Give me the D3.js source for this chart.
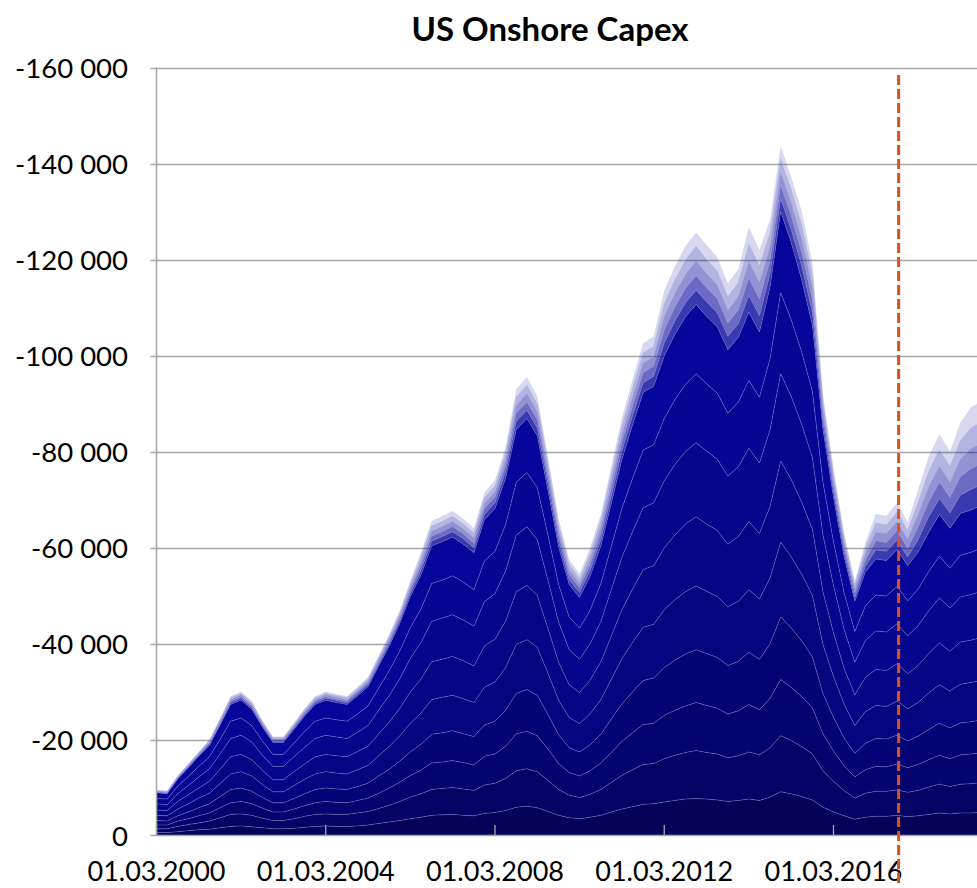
<!DOCTYPE html>
<html><head><meta charset="utf-8">
<script src="https://cdn.jsdelivr.net/npm/d3@7"></script>
<style>
body{margin:0;background:#fff}
svg{display:block}
text{font-family:Lato,"Open Sans",sans-serif;fill:#000}
</style>
</head><body>
<svg id="chart" width="977" height="888"></svg>
<script>
// ---- DATA (values in thousands, shown as negative capex) ----
const chartTitle = "US Onshore Capex";
const firstQuarter = "2000-03-01";
const quarterCount = 79;
const xTickDates = ["2000-03-01","2004-03-01","2008-03-01","2012-03-01","2016-03-01"];
const forecastStart = "2017-09-01";
const yTicks = [0,-20000,-40000,-60000,-80000,-100000,-120000,-140000,-160000];

// cumulative boundary lines, bottom to top
const line1 = [0.6,0.6,0.8,1.0,1.2,1.3,1.6,1.9,2.0,1.8, 1.6,1.4,1.4,1.5,1.7,1.9,2.0,1.9,1.9,2.0, 2.2,2.5,2.8,3.1,3.5,3.8,4.2,4.3,4.4,4.2, 4.1,4.6,4.8,5.2,5.9,6.1,5.8,5.0,4.2,3.7, 3.5,3.8,4.2,4.9,5.5,6.0,6.5,6.6,7.0,7.3, 7.6,7.7,7.6,7.4,7.1,7.3,7.6,7.3,8.0,9.1, 8.7,8.1,7.4,5.9,4.9,4.1,3.4,3.8,4.0,4.0, 4.2,3.9,4.1,4.4,4.7,4.5,4.7,4.7,4.8];
const line2 = [1.4,1.4,1.9,2.3,2.6,3.0,3.7,4.4,4.5,4.2, 3.6,3.1,3.1,3.5,4.0,4.4,4.5,4.4,4.4,4.7, 5.0,5.6,6.3,7.1,8.0,8.7,9.6,9.8,10.0,9.7, 9.4,10.5,10.9,11.9,13.5,13.9,13.3,11.5,9.6,8.4, 7.9,8.6,9.6,11.1,12.5,13.7,14.8,15.0,16.0,16.7, 17.3,17.7,17.3,17.0,16.2,16.6,17.4,16.8,18.3,20.8, 19.8,18.5,17.0,13.5,11.3,9.3,7.8,8.8,9.2,9.2, 9.5,9.0,9.4,10.1,10.7,10.2,10.7,10.8,11.0];
const line3 = [2.2,2.2,3.0,3.5,4.1,4.7,5.8,6.8,7.1,6.6, 5.7,4.9,4.9,5.5,6.2,6.8,7.1,6.9,6.8,7.3, 7.8,8.8,9.9,11.1,12.5,13.6,15.1,15.3,15.6,15.2, 14.7,16.5,17.0,18.6,21.2,21.7,20.8,18.0,15.0,13.1, 12.4,13.5,15.1,17.3,19.6,21.4,23.1,23.4,25.0,26.1, 27.0,27.7,27.1,26.5,25.3,26.0,27.3,26.2,28.6,32.5, 30.9,28.9,26.6,21.2,17.6,14.5,12.2,13.7,14.4,14.3, 14.9,14.1,14.8,15.8,16.7,16.0,16.8,17.0,17.2];
const line4 = [3.1,3.0,4.1,4.9,5.8,6.6,8.1,9.6,9.9,9.2, 7.9,6.8,6.8,7.7,8.7,9.6,9.9,9.7,9.6,10.2, 10.9,12.4,13.8,15.5,17.4,19.0,21.1,21.4,21.8,21.2, 20.6,23.0,23.8,26.1,29.6,30.4,29.2,25.2,21.0,18.3, 17.4,18.9,21.1,24.3,27.4,29.9,32.3,32.8,35.0,36.5, 37.8,38.7,37.9,37.1,35.4,36.3,38.2,36.7,40.0,45.5, 43.3,40.5,37.2,29.6,24.6,20.3,17.1,19.2,20.2,20.1, 20.9,19.7,20.7,22.1,23.4,22.4,23.5,23.7,24.1];
const line5 = [4.2,4.1,5.5,6.6,7.8,8.8,10.8,12.8,13.3,12.4, 10.6,9.1,9.1,10.4,11.7,12.8,13.3,13.0,12.8,13.7, 14.6,16.6,18.6,20.8,23.4,25.5,28.3,28.8,29.2,28.5, 27.7,30.9,32.0,35.0,39.8,40.8,39.2,33.8,28.2,24.6, 23.3,25.4,28.3,32.6,36.8,40.2,43.4,44.0,47.0,49.1, 50.8,52.0,50.9,49.8,47.6,48.8,51.2,49.3,53.7,61.1, 58.1,54.4,50.0,39.8,33.1,27.3,22.9,25.8,27.1,26.9, 28.0,26.4,27.7,29.7,31.4,30.1,31.5,31.9,32.3];
const line6 = [5.3,5.2,7.1,8.5,9.9,11.3,13.8,16.4,16.9,15.8, 13.6,11.6,11.6,13.3,14.9,16.4,16.9,16.6,16.4,17.5, 18.6,21.2,23.7,26.5,29.9,32.6,36.2,36.7,37.3,36.4, 35.3,39.5,40.9,44.7,50.8,52.1,50.0,43.1,36.1,31.4, 29.8,32.4,36.2,41.6,47.0,51.3,55.4,56.2,59.9,62.6, 64.9,66.4,64.9,63.6,60.7,62.3,65.4,62.9,68.6,78.0, 74.2,69.4,63.8,50.8,42.2,34.8,29.3,32.9,34.6,34.4, 35.8,33.7,35.4,37.9,40.1,38.4,40.3,40.7,41.3];
const line7 = [6.6,6.4,8.7,10.4,12.2,13.9,17.0,20.2,20.9,19.5, 16.7,14.4,14.4,16.4,18.4,20.2,20.9,20.5,20.2,21.5, 22.9,26.1,29.2,32.7,36.9,40.2,44.6,45.3,46.0,44.9, 43.6,48.7,50.4,55.1,62.6,64.3,61.6,53.2,44.5,38.7, 36.7,40.0,44.6,51.3,57.9,63.3,68.3,69.3,73.9,77.3, 80.0,81.8,80.1,78.4,74.9,76.8,80.7,77.6,84.6,96.2, 91.5,85.6,78.7,62.6,52.1,42.9,36.1,40.6,42.6,42.4, 44.1,41.6,43.7,46.8,49.5,47.4,49.7,50.2,50.9];
const line8 = [7.7,7.6,10.3,12.3,14.4,16.4,20.0,23.8,24.5,22.9, 19.7,16.9,16.9,19.2,21.7,23.8,24.5,24.1,23.8,25.3, 27.0,30.7,34.4,38.5,43.3,47.2,52.5,53.2,54.1,52.8, 51.2,57.2,59.2,64.8,73.6,75.6,72.5,62.6,52.3,45.5, 43.2,47.0,52.5,60.3,68.1,74.4,80.3,81.4,86.9,90.8, 94.0,96.2,94.1,92.2,88.0,90.3,94.8,91.3,99.4,113.1, 107.5,100.7,92.5,73.6,61.2,50.5,42.5,47.8,50.1,49.9, 51.9,48.9,51.3,55.0,58.2,55.7,58.4,59.0,59.9];
const solidTop = [8.9,8.7,11.8,14.1,16.5,18.8,23,27.3,28.2,26.3, 22.6,19.4,19.4,22.1,24.9,27.3,28.2,27.7,27.3,29.1, 31,35.3,39.5,44.2,49.8,54.3,60.3,61.2,62.2,60.7, 58.9,65.8,68.1,74.5,84.6,86.9,83.3,71.9,60.1,52.3, 49.6,54,60.3,69.3,78.3,85.5,92.3,93.6,99.9,104.4, 108.1,110.6,108.2,106,101.2,103.8,109,104.9,114.3,130, 123.6,115.7,106.3,84.6,70.4,58,48.8,54.9,57.6,57.3, 59.6,56.2,59,63.2,66.9,64,67.1,67.8,68.8];
const fade1 = [9.0,8.8,11.9,14.3,16.7,19.0,23.3,27.6,28.6,26.6, 22.9,19.6,19.6,22.4,25.2,27.6,28.6,28.1,27.6,29.5, 31.4,35.7,40.0,44.8,50.4,55.2,61.3,62.3,63.3,61.8, 59.9,66.9,69.3,75.8,86.3,88.6,84.9,73.3,61.3,53.3, 50.6,55.2,61.6,70.8,80.0,87.4,94.3,95.7,102.6,107.2, 111.0,113.6,111.2,108.9,104.0,106.6,112.5,108.3,117.1,132.7, 126.3,118.6,108.9,86.1,71.6,59,49.6,56.1,59.5,59.2, 61.5,58.0,61.6,66.4,70.2,67.2,70.9,72.1,73.1];
const fade2 = [9.1,8.9,12.1,14.5,16.9,19.3,23.6,28.0,28.9,27.0, 23.2,19.9,19.9,22.7,25.5,28.0,28.9,28.4,28.0,29.9, 31.8,36.2,40.5,45.3,51.1,56.2,62.4,63.3,64.4,62.8, 60.9,68.1,70.5,77.1,88.0,90.3,86.6,74.7,62.5,54.4, 51.6,56.4,63.0,72.4,81.8,89.3,96.4,97.8,105.3,110.1, 114.0,116.6,114.1,111.8,106.7,109.5,116.1,111.7,119.9,135.4, 129.1,121.4,111.5,87.6,72.8,60,50.5,57.3,61.4,61.0, 63.5,59.8,64.2,69.5,73.6,70.4,74.7,76.4,77.5];
const fade3 = [9.3,9.1,12.2,14.6,17.1,19.5,23.9,28.3,29.3,27.3, 23.4,20.1,20.1,22.9,25.9,28.3,29.3,28.8,28.3,30.2, 32.2,36.6,41.0,45.9,51.7,57.1,63.4,64.4,65.4,63.9, 62.0,69.2,71.6,78.4,89.6,92.1,88.2,76.2,63.6,55.4, 52.5,57.6,64.3,73.9,83.5,91.2,98.4,99.8,108.1,112.9, 116.9,119.7,117.1,114.7,109.5,112.3,119.6,115.2,122.8,138.2, 131.8,124.3,114.2,89.0,74.1,61,51.3,58.6,63.2,62.9, 65.4,61.7,66.8,72.7,76.9,73.6,78.4,80.6,81.8];
const fade4 = [9.4,9.2,12.4,14.8,17.3,19.8,24.2,28.7,29.6,27.7, 23.7,20.4,20.4,23.2,26.2,28.7,29.6,29.1,28.7,30.6, 32.6,37.1,41.5,46.4,52.4,58.1,64.5,65.4,66.5,64.9, 63.0,70.4,72.8,79.7,91.3,93.8,89.9,77.6,64.8,56.5, 53.5,58.8,65.7,75.5,85.3,93.1,100.5,101.9,110.8,115.8, 119.9,122.7,120.0,117.6,112.2,115.2,123.2,118.6,125.6,140.9, 134.6,127.1,116.8,90.5,75.3,62,52.2,59.8,65.1,64.7, 67.4,63.5,69.4,75.8,80.3,76.8,82.2,84.9,86.2];
const total = [9.5,9.3,12.5,15,17.5,20,24.5,29,30,28, 24,20.6,20.6,23.5,26.5,29,30,29.5,29,31, 33,37.5,42,47,53,59,65.5,66.5,67.6,66, 64,71.5,74,81,93,95.5,91.5,79,66,57.5, 54.5,60,67,77,87,95,102.5,104,113.5,118.6, 122.8,125.7,123,120.5,115,118,126.7,122,128.4,143.6, 137.3,130,119.4,92,76.5,63,53,61,67,66.6, 69.3,65.3,72,79,83.6,80,86,89.2,90.5];

// ---- DRAWING ----
const svg = d3.select("#chart");
const parse = d3.timeParse("%Y-%m-%d");
const start = parse(firstQuarter);
const dates = d3.range(quarterCount).map(i => d3.timeMonth.offset(start, 3 * i));

const x = d3.scaleTime().domain([parse("2000-03-01"), parse("2016-03-01")]).range([156.5, 833.5]);
const y = d3.scaleLinear().domain([0, -160000]).range([835.5, 67.5]);
const fmt = d3.formatLocale({decimal: ",", thousands: " ", grouping: [3], currency: ["", ""], minus: "-"}).format(",");

const plotLeft = 156.5, plotRight = 977;

// gridlines
svg.append("g").selectAll("line").data(yTicks.filter(v => v !== 0)).join("line")
  .attr("x1", plotLeft - 6).attr("x2", plotRight)
  .attr("y1", d => Math.round(y(d)) + 0.5).attr("y2", d => Math.round(y(d)) + 0.5)
  .attr("stroke", "#a6a6a6").attr("stroke-width", 1.3);

const levels = [line1.map(() => 0), line1, line2, line3, line4, line5, line6, line7, line8, solidTop, fade1, fade2, fade3, fade4, total];
const baseColor = d3.interpolateRgb("#03035a", "#06069a");
const fadeOpacity = [0.8, 0.6, 0.44, 0.3, 0.16];

const g = svg.append("g");
for (let k = 1; k < levels.length; k++) {
  const lo = levels[k - 1], hi = levels[k];
  const area = d3.area()
    .x((d, i) => x(dates[i]))
    .y0((d, i) => y(-lo[i] * 1000))
    .y1((d, i) => y(-hi[i] * 1000));
  const p = g.append("path").datum(hi).attr("d", area);
  if (k <= 9) {
    p.attr("fill", baseColor(Math.pow((k - 1) / 8, 0.8)));
  } else {
    p.attr("fill", "#08089c").attr("fill-opacity", fadeOpacity[k - 10]);
  }
}
// thin separating lines
const lineGen = arr => d3.line().x((d, i) => x(dates[i])).y((d, i) => y(-arr[i] * 1000));
for (let k = 1; k < levels.length - 1; k++) {
  g.append("path").datum(levels[k]).attr("d", lineGen(levels[k]))
    .attr("fill", "none").attr("stroke", "#9a9ae0").attr("stroke-opacity", k < 9 ? 0.42 : 0.35)
    .attr("stroke-width", 0.8);
}

// axes
svg.append("line").attr("x1", plotLeft).attr("x2", plotLeft).attr("y1", 67.5).attr("y2", 836)
  .attr("stroke", "#a6a6a6").attr("stroke-width", 1.5);
svg.append("line").attr("x1", plotLeft - 6).attr("x2", plotRight).attr("y1", 835.5).attr("y2", 835.5)
  .attr("stroke", "#a6a6a6").attr("stroke-width", 1.5);
svg.append("g").selectAll("line").data(xTickDates).join("line")
  .attr("x1", d => x(parse(d))).attr("x2", d => x(parse(d)))
  .attr("y1", 825).attr("y2", 835.5).attr("stroke", "#a6a6a6").attr("stroke-width", 1.3);

// y labels
svg.append("g").selectAll("text").data(yTicks).join("text")
  .attr("x", 128).attr("y", d => y(d) + 10)
  .attr("text-anchor", "end").attr("font-size", 27.5)
  .text(d => fmt(d));

// x labels
svg.append("g").selectAll("text").data(xTickDates).join("text")
  .attr("x", d => x(parse(d))).attr("y", 881)
  .attr("text-anchor", "middle").attr("font-size", 27)
  .text(d => d3.timeFormat("%d.%m.%Y")(parse(d)));

// forecast divider
svg.append("line")
  .attr("x1", x(parse(forecastStart)) + 1.5).attr("x2", x(parse(forecastStart)) + 1.5)
  .attr("y1", 75).attr("y2", 886)
  .attr("stroke", "#d9531e").attr("stroke-width", 3).attr("stroke-dasharray", "10,4");

// title
svg.append("text").attr("x", 550).attr("y", 41).attr("text-anchor", "middle")
  .attr("font-size", 33).attr("font-weight", "bold").text(chartTitle);
</script>
</body></html>
